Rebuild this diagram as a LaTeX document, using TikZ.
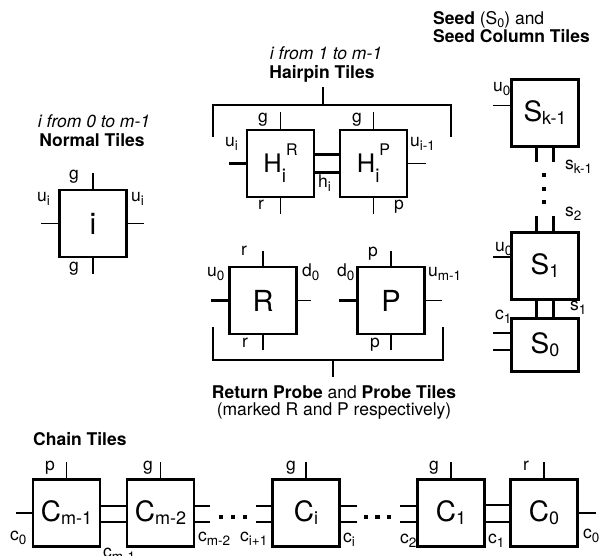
\documentclass[tikz,border=0pt]{standalone}
\usepackage{fontspec}
\setmainfont{TeX Gyre Heros}
\usepackage{tikz}

\newcommand{\lsub}[1]{\raisebox{-4pt}{\fontsize{13.5}{13.5}\selectfont #1}}
\newcommand{\tsub}[1]{\raisebox{-2.5pt}{\fontsize{12.5}{12.5}\selectfont #1}}
\newcommand{\bsub}[1]{\raisebox{-3pt}{\fontsize{18}{18}\selectfont #1}}
\newcommand{\hsub}[1]{\raisebox{-10pt}{\fontsize{19}{19}\selectfont #1}}
\newcommand{\hsup}[1]{\raisebox{17pt}{\fontsize{16}{16}\selectfont #1}}

\tikzset{
  tile/.style={draw, line width=2.6pt, minimum width=67pt, minimum height=67pt,
    inner sep=0pt, font=\fontsize{28}{28}\selectfont},
  glue/.style={line width=1.4pt},
  strong/.style={line width=2.2pt},
  link/.style={line width=2.6pt},
  brace/.style={line width=2.2pt},
  lbl/.style={anchor=base west, inner sep=0pt, font=\fontsize{17.5}{17.5}\selectfont},
  title/.style={anchor=base, inner sep=0pt, font=\fontsize{17.5}{17.5}\selectfont}
}

\begin{document}
\begin{tikzpicture}[x=1pt,y=-1pt]
    \useasboundingbox (0,0) rectangle (602,556);

    % normal tiles
    \node[title] at (94,128) {\itshape i from 0 to m-1};
    \node[title] at (92,147) {\bfseries Normal Tiles};
    \node[tile,font=\fontsize{30}{30}\selectfont] (norm) at (93,223.5) {i};
    \draw[strong] (norm.north) -- ++(0,-16);
    \draw[strong] (norm.south) -- ++(0,16);
    \draw[glue] (norm.west) -- ++(-17,0);
    \draw[glue] (norm.east) -- ++(16,0);
    \node[lbl] at (69,179) {g};
    \node[lbl] at (37,202) {u\lsub{i}};
    \node[lbl] at (131,202) {u\lsub{i}};
    \node[lbl] at (69,271) {g};

    % hairpin tiles
    \node[title] at (326,60) {\itshape i from 1 to m-1};
    \node[title] (hairpin) at (322,79) {\bfseries Hairpin Tiles};
    \coordinate (hp mid) at (323,105);
    \draw[brace] (213,137) |- (451,105) -- (451,137);
    \draw[brace] (hp mid) -- ++(0,-18);
    \node[tile,font=\fontsize{25.5}{25.5}\selectfont] (HR) at (280.5,163.5) {H\hsub{i}\hsup{R}};
    \node[tile,font=\fontsize{25.5}{25.5}\selectfont] (HP) at (373.5,163.5) {H\hsub{i}\hsup{P}};
    \draw[link] ([yshift=9pt]HR.east) -- ([yshift=9pt]HP.west);
    \draw[link] ([yshift=-9pt]HR.east) -- ([yshift=-9pt]HP.west);
    \draw[glue] (HR.north) -- ++(0,-17);
    \draw[glue] (HP.north) -- ++(0,-17);
    \draw[glue] (HR.south) -- ++(0,16);
    \draw[glue] (HP.south) -- ++(0,16);
    \draw[strong] (HR.west) -- ++(-17,0);
    \draw[glue] (HP.east) -- ++(18,0);
    \node[lbl] at (258,123) {g};
    \node[lbl] at (352,123) {g};
    \node[lbl] at (225,147) {u\lsub{i}};
    \node[lbl] at (410,147) {u\lsub{i-1}};
    \node[lbl] at (318,188) {h\lsub{i}};
    \node[lbl] at (258,210) {r};
    \node[lbl] at (394,210) {p};

    % return probe and probe tiles
    \node[tile,font=\fontsize{29}{29}\selectfont] (R) at (263,300.5) {R};
    \node[tile,font=\fontsize{29}{29}\selectfont] (P) at (391,300.5) {P};
    \draw[glue] (R.north) -- ++(0,-15);
    \draw[strong] (R.south) -- ++(0,15);
    \draw[strong] (R.west) -- ++(-17,0);
    \draw[glue] (R.east) -- ++(13,0);
    \draw[glue] (P.north) -- ++(0,-15);
    \draw[strong] (P.south) -- ++(0,15);
    \draw[strong] (P.west) -- ++(-17,0);
    \draw[glue] (P.east) -- ++(16,0);
    \node[lbl] at (241,255) {r};
    \node[lbl] at (207,276) {u\lsub{0}};
    \node[lbl] at (302,276) {d\lsub{0}};
    \node[lbl] at (337,276) {d\lsub{0}};
    \node[lbl] at (428,276) {u\lsub{m-1}};
    \node[lbl] at (368,256) {p};
    \node[lbl] at (242,347) {r};
    \node[lbl] at (370,347) {p};
    \coordinate (rp mid) at (333,360);
    \draw[brace] (213,327) |- (443,360) -- (443,327);
    \draw[brace] (rp mid) -- ++(0,17);
    \node[title] (probe) at (334,398) {{\bfseries Return Probe} and {\bfseries Probe Tiles}};
    \node[title] at (334,415) {(marked R and P respectively)};

    % seed column
    \node[title,anchor=base west] at (433,25) {{\bfseries Seed} (S\tsub{0}) and};
    \node[title,anchor=base west] at (433,43) {\bfseries Seed Column Tiles};
    \node[tile] (Sk) at (545,113) {S\bsub{k-1}};
    \node[tile] (S1) at (545,266) {S\bsub{1}};
    \node[tile,minimum height=53.5pt] (S0) at (545,345) {S\bsub{0}};
    \draw[glue] ([yshift=7.5pt]Sk.west) -- ++(-17,0);
    \draw[glue] ([yshift=9pt]S1.west) -- ++(-17,0);
    \draw[strong] ([yshift=12pt]S0.west) -- ++(-17,0);
    \draw[strong] ([yshift=-5pt]S0.west) -- ++(-17,0);
    \draw[strong] ([xshift=-8.5pt]Sk.south) -- ++(0,14);
    \draw[strong] ([xshift=8.5pt]Sk.south) -- ++(0,14);
    \draw[strong] ([xshift=-8.5pt]S1.north) -- ++(0,-15);
    \draw[strong] ([xshift=8.5pt]S1.north) -- ++(0,-15);
    \draw[link] ([xshift=-8.5pt]S1.south) -- ([xshift=-8.5pt]S0.north);
    \draw[link] ([xshift=8.5pt]S1.south) -- ([xshift=8.5pt]S0.north);
    \foreach \y in {175,189,202}
      \fill (541.8,\y-2.3) rectangle ++(4.6,4.6);
    \node[lbl] at (493,92) {u\lsub{0}};
    \node[lbl] at (565,170) {s\lsub{k-1}};
    \node[lbl] at (565,216) {s\lsub{2}};
    \node[lbl] at (495,251) {u\lsub{0}};
    \node[lbl] at (570,310) {s\lsub{1}};
    \node[lbl] at (495,319) {c\lsub{1}};

    % chain tiles
    \node[title,anchor=base west] at (33,445) {\bfseries Chain Tiles};
    \node[tile] (Cm1) at (66.5,513) {C\bsub{m-1}};
    \node[tile] (Cm2) at (160.5,513) {C\bsub{m-2}};
    \node[tile] (Ci) at (306,513) {C\bsub{i}};
    \node[tile] (C1) at (451,513) {C\bsub{1}};
    \node[tile] (C0) at (544,513) {C\bsub{0}};
    \foreach \t in {Cm1,Cm2,Ci,C1,C0}
      \draw[glue] (\t.north) -- ++(0,-16);
    \draw[glue] (Cm1.west) -- ++(-16,0);
    \draw[glue] (C0.east) -- ++(17,0);
    \draw[link] ([yshift=7pt]Cm1.east) -- ([yshift=7pt]Cm2.west);
    \draw[link] ([yshift=-9pt]Cm1.east) -- ([yshift=-9pt]Cm2.west);
    \draw[link] ([yshift=8pt]C1.east) -- ([yshift=8pt]C0.west);
    \draw[link] ([yshift=-9pt]C1.east) -- ([yshift=-9pt]C0.west);
    \foreach \s in {7,-9} {
      \draw[link] ([yshift=\s pt]Cm2.east) -- ++(15,0);
      \draw[link] ([yshift=\s pt]Ci.west) -- ++(-15,0);
      \draw[link] ([yshift=\s pt]Ci.east) -- ++(16,0);
      \draw[link] ([yshift=\s pt]C1.west) -- ++(-16,0);
    }
    \foreach \x in {221,233,245,366,377.5,389}
      \fill (\x-2.3,514.7) rectangle ++(4.6,4.6);
    \node[lbl] at (45,470) {p};
    \node[lbl] at (143,470) {g};
    \node[lbl] at (286,470) {g};
    \node[lbl] at (429,470) {g};
    \node[lbl] at (523,470) {r};
    \node[lbl] at (10,540) {c\lsub{0}};
    \node[lbl] at (103,557) {c\lsub{m-1}};
    \node[lbl] at (198,541) {c\lsub{m-2}};
    \node[lbl] at (240,541) {c\lsub{i+1}};
    \node[lbl] at (343,542) {c\lsub{i}};
    \node[lbl] at (400,543) {c\lsub{2}};
    \node[lbl] at (488,543) {c\lsub{1}};
    \node[lbl] at (583,538) {c\lsub{0}};
\end{tikzpicture}
\end{document}
